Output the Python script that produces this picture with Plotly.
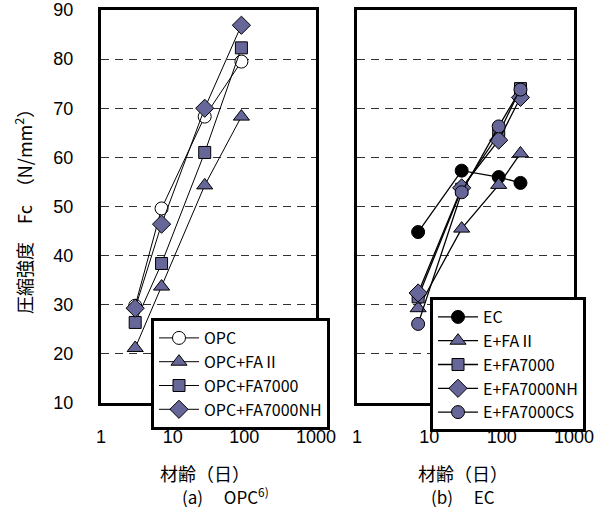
import plotly.graph_objects as go

# ---------------- data ----------------
ages_a = [3, 7, 28, 91]
opc = [29.8, 49.6, 68.3, 79.5]
opc_fa2 = [21.2, 33.7, 54.3, 68.3]
opc_fa7000 = [26.4, 38.4, 61.0, 82.3]
opc_fa7000nh = [29.3, 46.4, 70.0, 86.9]

ages_b = [7, 28, 91, 182]
ec = [44.8, 57.3, 56.0, 54.8]
e_fa2 = [29.3, 45.5, 54.4, 60.8]
e_fa7000 = [31.6, 53.5, 64.8, 74.0]
e_fa7000nh = [32.4, 53.8, 63.5, 72.2]
e_fa7000cs = [26.1, 52.9, 66.3, 73.8]

names_a = ["OPC", "OPC+FAⅡ", "OPC+FA7000", "OPC+FA7000NH"]
names_b = ["EC", "E+FAⅡ", "E+FA7000", "E+FA7000NH", "E+FA7000CS"]

x_ticks = [1, 10, 100, 1000]
x_ticktext = ["1", "10", "100", "1000"]
y_ticks = [10, 20, 30, 40, 50, 60, 70, 80, 90]

# ---------------- styles ----------------
FILL = "#666699"
JP = "Noto Sans CJK JP"
NUM = "Liberation Sans, Arial"

W, H = 606, 508
L, R, T, B = 101, 32, 10, 105
PW, PH = W - L - R, H - T - B


def px(xp):
    return (xp - L) / PW


def py(yp):
    return (H - B - yp) / PH


fig = go.Figure()

series_a = [
    (names_a[0], opc, "circle", "white", 13),
    (names_a[1], opc_fa2, "triangle-up", FILL, 14),
    (names_a[2], opc_fa7000, "square", FILL, 12),
    (names_a[3], opc_fa7000nh, "diamond", FILL, 14),
]
for name, vals, sym, col, sz in series_a:
    fig.add_trace(go.Scatter(
        x=ages_a, y=vals, name=name, mode="lines+markers",
        line=dict(color="black", width=1),
        marker=dict(symbol=sym, size=sz, color=col, line=dict(color="black", width=1)),
        xaxis="x", yaxis="y", legend="legend",
    ))

series_b = [
    (names_b[0], ec, "circle", "black", 13),
    (names_b[1], e_fa2, "triangle-up", FILL, 14),
    (names_b[2], e_fa7000, "square", FILL, 12),
    (names_b[3], e_fa7000nh, "diamond", FILL, 14),
    (names_b[4], e_fa7000cs, "circle", FILL, 13),
]
for name, vals, sym, col, sz in series_b:
    fig.add_trace(go.Scatter(
        x=ages_b, y=vals, name=name, mode="lines+markers",
        line=dict(color="black", width=1.3),
        marker=dict(symbol=sym, size=sz, color=col, line=dict(color="black", width=1)),
        xaxis="x2", yaxis="y2", legend="legend2",
    ))

xcommon = dict(
    type="log", range=[0, 3], tickvals=x_ticks, ticktext=x_ticktext,
    showline=True, mirror=True, linewidth=3, linecolor="black",
    showgrid=False, zeroline=False, ticks="", automargin=False,
    tickfont=dict(family=NUM, size=18, color="black"),
    ticklabelstandoff=15,
)
ycommon = dict(
    range=[10, 90], tickvals=y_ticks, automargin=False,
    showline=True, mirror=True, linewidth=3, linecolor="black",
    showgrid=True, gridcolor="#333333", gridwidth=1, griddash="8px,6px",
    zeroline=False, ticks="",
    tickfont=dict(family=NUM, size=18, color="black"),
)

legcommon = dict(
    xanchor="left", yanchor="top",
    bordercolor="black", borderwidth=3, bgcolor="white",
    font=dict(family=JP, size=16, color="black"),
    tracegroupgap=0, itemclick=False, itemwidth=40,
)


def ann(text, x, y, size=18, **kw):
    return dict(text=text, x=px(x), y=py(y), xref="paper", yref="paper",
                xanchor="center", yanchor="middle", showarrow=False,
                font=dict(family=JP, size=size, color="black"), **kw)


fig.update_layout(
    width=W, height=H,
    margin=dict(l=L, r=R, t=T, b=B, autoexpand=False),
    paper_bgcolor="white", plot_bgcolor="white",
    showlegend=True,
    xaxis=dict(domain=[0, px(316)], anchor="y", **xcommon),
    yaxis=dict(domain=[0, 1], anchor="x", ticklabelstandoff=21, **ycommon),
    xaxis2=dict(domain=[px(357), 1], anchor="y2", **xcommon),
    yaxis2=dict(domain=[0, 1], anchor="x2", showticklabels=False, **ycommon),
    legend=dict(x=px(151), y=py(318), **legcommon),
    legend2=dict(x=px(430), y=py(297), **legcommon),
    annotations=[
        ann("圧縮強度　Fc　（N/mm<sup>2</sup>）", 23, 207, textangle=-90),
        ann("材齢（日）", 205, 473),
        ann("(a)　 OPC<sup>6)</sup>", 225, 496, size=17),
        ann("材齢（日）", 463, 473),
        ann("(b)　 EC", 463, 496, size=17),
    ],
)

fig.write_html("out.html", config={"displayModeBar": False},
               post_script="document.body.style.margin='0px';")
